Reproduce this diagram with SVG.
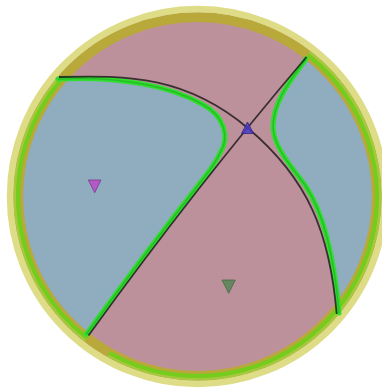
<svg xmlns="http://www.w3.org/2000/svg" width="382" height="388" viewBox="0 0 382 388">
<defs>
<clipPath id="disk"><circle cx="197.5" cy="196.5" r="178"/></clipPath>
</defs>
<style>
.blue{fill:#8fadbe}
.gl{fill:none;stroke:#30de30;stroke-width:5;stroke-linejoin:round;stroke-linecap:round}
.glc{fill:none;stroke:#1faa1f;stroke-width:1.6;stroke-opacity:0.6}
.nodal{fill:none;stroke:#231c20;stroke-width:1.8;stroke-opacity:0.85}
.ringc{fill:none}
</style>
<rect width="382" height="388" fill="#ffffff"/>
<g id="regions" clip-path="url(#disk)">
<rect x="0" y="0" width="382" height="388" fill="#bd919b"/>
<path id="blue-left" class="blue" d="M58,79 C120,76 170,86 202,104 C225,116 230,138 220,153 C216,162 211,168.5 206.5,174.5 Q146.7,250.8 86.5,334 L60,370 L0,300 L0,100 L40,60 Z"/>
<path id="blue-right" class="blue" d="M306,59 C294,76 273,100 273,127 C274,148 291,166 305,185 C327.5,218 335.6,273 339,313 L360,350 L420,200 L360,20 L320,40 Z"/>
</g>
<g id="ring" class="ringc">
<circle cx="197.5" cy="196.5" r="187.5" stroke="#dedc86" stroke-width="6.5"/>
<circle cx="197.5" cy="196.5" r="179.3" stroke="#b9a83a" stroke-width="9.8"/>
<path d="M85.4,340.5 A182.5,182.5 0 0 1 57.9,78.9" stroke="#a6c83e" stroke-width="3"/>
<path d="M309.6,52.5 A182.5,182.5 0 0 1 107.9,355.5" stroke="#a6c83e" stroke-width="3"/>
<path d="M87.2,338.1 A179.5,179.5 0 0 1 60.2,80.9" stroke="#74cc1c" stroke-width="4"/>
<path d="M307.8,54.9 A179.5,179.5 0 0 1 109.4,352.9" stroke="#74cc1c" stroke-width="4"/>
</g>
<g id="connectors">
<path class="gl" d="M58,79 C120,76 170,86 202,104 C225,116 230,138 220,153 C216,162 211,168.5 206.5,174.5 Q146.7,250.8 86.5,334"/>
<path class="gl" d="M306,59 C294,76 273,100 273,127 C274,148 291,166 305,185 C327.5,218 335.6,273 339,313"/>
<path class="glc" d="M58,79 C120,76 170,86 202,104 C225,116 230,138 220,153 C216,162 211,168.5 206.5,174.5 Q146.7,250.8 86.5,334"/>
<path class="glc" d="M306,59 C294,76 273,100 273,127 C274,148 291,166 305,185 C327.5,218 335.6,273 339,313"/>
<path id="nodal-curve" class="nodal" d="M59,77 C129,75 186.4,76.6 247.7,128 C309,179.4 329.9,234 336.7,314"/>
<path id="nodal-line" class="nodal" d="M88.5,335.5 Q197.5,184.75 306.5,57"/>
</g>
<g id="node-purple"><polygon points="88.3,180 101,180 94.7,192.7" fill="#b25ac6" stroke="#7a3a8a" stroke-width="0.8"/></g>
<g id="node-green"><polygon points="222,280 235.3,280 228.7,293.3" fill="#64875f" stroke="#4a6a44" stroke-width="0.8"/></g>
<g id="node-blue"><polygon points="247.5,122 241.5,133.5 253.5,133.5" fill="#4b3cc8" fill-opacity="0.85" stroke="#2e2480" stroke-width="0.8"/></g>
</svg>
